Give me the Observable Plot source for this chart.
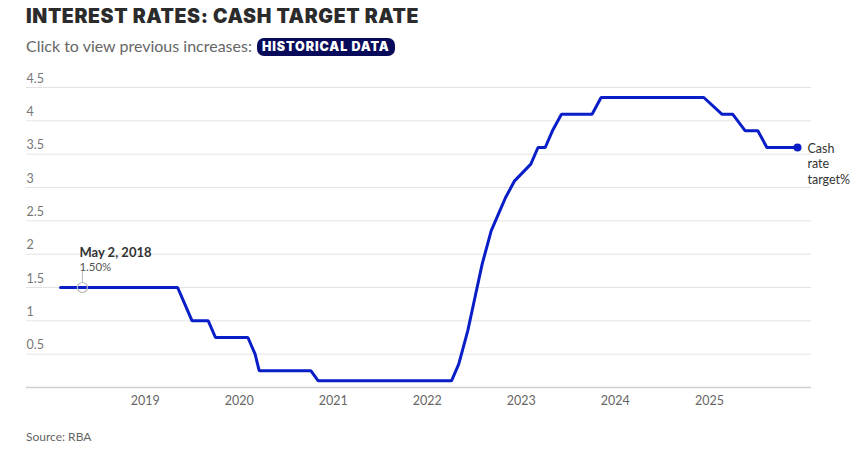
<!DOCTYPE html>
<html>
<head>
<meta charset="utf-8">
<script src="https://cdn.jsdelivr.net/npm/d3@7"></script>
<script src="https://cdn.jsdelivr.net/npm/@observablehq/plot@0.6"></script>
<style>
  html, body { margin: 0; padding: 0; background: #fff; }
  body { width: 865px; height: 459px; position: relative; overflow: hidden; font-family: Lato, "Open Sans", sans-serif; }
  #title { position: absolute; left: 26px; top: 4px; font-family: Inter, Lato, sans-serif; font-size: 19.5px; font-weight: 900; letter-spacing: 0.6px; color: #2b2b2b; line-height: 24px; white-space: nowrap; }
  #sub { position: absolute; left: 26px; top: 35.9px; font-size: 16px; color: #666; line-height: 19.2px; white-space: nowrap; }
  #pill { position: absolute; left: 257px; top: 38px; height: 18px; line-height: 18px; padding: 0 5px; border-radius: 7px; background: #070b5a; color: #fff; font-family: Inter, Lato, sans-serif; font-size: 12.5px; font-weight: 900; letter-spacing: 0.9px; white-space: nowrap; }
  #chart { position: absolute; left: 0; top: 62px; }
  #source { position: absolute; left: 26px; top: 429.5px; font-size: 12px; color: #666; line-height: 14.4px; }
</style>
</head>
<body>
<div id="title">INTEREST RATES: CASH TARGET RATE</div>
<div id="sub">Click to view previous increases:</div>
<div id="pill">HISTORICAL DATA</div>
<div id="chart"></div>
<div id="source">Source: RBA</div>
<script>
// RBA cash rate target at each board meeting (rate after decision)
const dates = [
  "2018-02-06","2018-03-06","2018-04-03","2018-05-01","2018-06-05","2018-07-03","2018-08-07","2018-09-04","2018-10-02","2018-11-06","2018-12-04",
  "2019-02-05","2019-03-05","2019-04-02","2019-05-07","2019-06-04","2019-07-02","2019-08-06","2019-09-03","2019-10-01","2019-11-05","2019-12-03",
  "2020-02-04","2020-03-03","2020-03-19","2020-04-07","2020-05-05","2020-06-02","2020-07-07","2020-08-04","2020-09-01","2020-10-06","2020-11-03","2020-12-01",
  "2021-02-02","2021-03-02","2021-04-06","2021-05-04","2021-06-01","2021-07-06","2021-08-03","2021-09-07","2021-10-05","2021-11-02","2021-12-07",
  "2022-02-01","2022-03-01","2022-04-05","2022-05-03","2022-06-07","2022-07-05","2022-08-02","2022-09-06","2022-10-04","2022-11-01","2022-12-06",
  "2023-02-07","2023-03-07","2023-04-04","2023-05-02","2023-06-06","2023-07-04","2023-08-01","2023-09-05","2023-10-03","2023-11-07","2023-12-05",
  "2024-02-06","2024-03-19","2024-05-07","2024-06-18","2024-08-06","2024-09-24","2024-11-05","2024-12-10",
  "2025-02-18","2025-04-01","2025-05-20","2025-07-08","2025-08-12","2025-09-30","2025-11-04","2025-12-09"
];
const rates = [
  1.5,1.5,1.5,1.5,1.5,1.5,1.5,1.5,1.5,1.5,1.5,
  1.5,1.5,1.5,1.5,1.25,1.0,1.0,1.0,0.75,0.75,0.75,
  0.75,0.5,0.25,0.25,0.25,0.25,0.25,0.25,0.25,0.25,0.1,0.1,
  0.1,0.1,0.1,0.1,0.1,0.1,0.1,0.1,0.1,0.1,0.1,
  0.1,0.1,0.1,0.35,0.85,1.35,1.85,2.35,2.6,2.85,3.1,
  3.35,3.6,3.6,3.85,4.1,4.1,4.1,4.1,4.1,4.35,4.35,
  4.35,4.35,4.35,4.35,4.35,4.35,4.35,4.35,
  4.1,4.1,3.85,3.85,3.6,3.6,3.6,3.6
];
const yTicks = [0.5, 1, 1.5, 2, 2.5, 3, 3.5, 4, 4.5];
const xTickYears = [2019, 2020, 2021, 2022, 2023, 2024, 2025];
const seriesLabel = "Cash\nrate\ntarget%";
const annotationDates = ["2018-05-02"];
const annotationValues = [1.5];

const data = dates.map((d, i) => ({date: new Date(d), value: rates[i]}));
const last = [data[data.length - 1]];
const annotation = annotationDates.map((d, i) => ({date: new Date(d), value: annotationValues[i]}));
const xTicks = xTickYears.map(y => new Date(Date.UTC(y, 0, 1)));

const blue = "#0a1ec8";
const fmtDate = d3.utcFormat("%b %-d, %Y");

const chart = Plot.plot({
  width: 865,
  height: 350,
  marginTop: 25,
  marginBottom: 25,
  marginLeft: 26,
  marginRight: 54,
  style: {fontFamily: "Lato, 'Open Sans', sans-serif", background: "transparent", overflow: "visible"},
  x: {type: "utc", insetLeft: 34, insetRight: 14},
  y: {domain: [0, 4.5]},
  marks: [
    Plot.ruleY(yTicks, {stroke: "#e3e3e3", strokeWidth: 1}),
    Plot.ruleY([0], {stroke: "#cfcfcf", strokeWidth: 1.5}),
    Plot.axisY({ticks: yTicks, label: null, tickSize: 0, tickPadding: 0, textAnchor: "start", dy: -9, fontSize: 12.5, fill: "#777", tickFormat: d => String(d)}),
    Plot.axisX({ticks: xTicks, label: null, tickSize: 0, tickPadding: 9, tickFormat: d3.utcFormat("%Y"), fontSize: 12.5, fill: "#666"}),
    Plot.line(data, {x: "date", y: "value", stroke: blue, strokeWidth: 3, strokeLinejoin: "miter"}),
    Plot.vector(annotation, {x: "date", y: "value", length: 11, anchor: "start", dy: -5, stroke: "#bbb", strokeWidth: 1,
      shape: {draw(ctx, l) { ctx.moveTo(0, 0); ctx.lineTo(0, -l); }}}),
    Plot.dot(annotation, {x: "date", y: "value", r: 5, stroke: "#bbb", strokeWidth: 1.2, fill: "none"}),
    Plot.text(annotation, {x: "date", y: "value", text: d => fmtDate(d.date), textAnchor: "start", dx: -3, dy: -35, fontSize: 13, fontWeight: "bold", fill: "#333"}),
    Plot.text(annotation, {x: "date", y: "value", text: d => d3.format(".2f")(d.value) + "%", textAnchor: "start", dx: -3, dy: -20, fontSize: 11.5, fill: "#555"}),
    Plot.dot(last, {x: "date", y: "value", r: 4, fill: blue}),
    Plot.text(last, {x: "date", y: "value", text: () => seriesLabel, textAnchor: "start", lineAnchor: "top", lineHeight: 1.24, dx: 10, dy: -6, fontSize: 12.5, fill: "#333"})
  ]
});
document.getElementById("chart").appendChild(chart);
</script>
</body>
</html>
